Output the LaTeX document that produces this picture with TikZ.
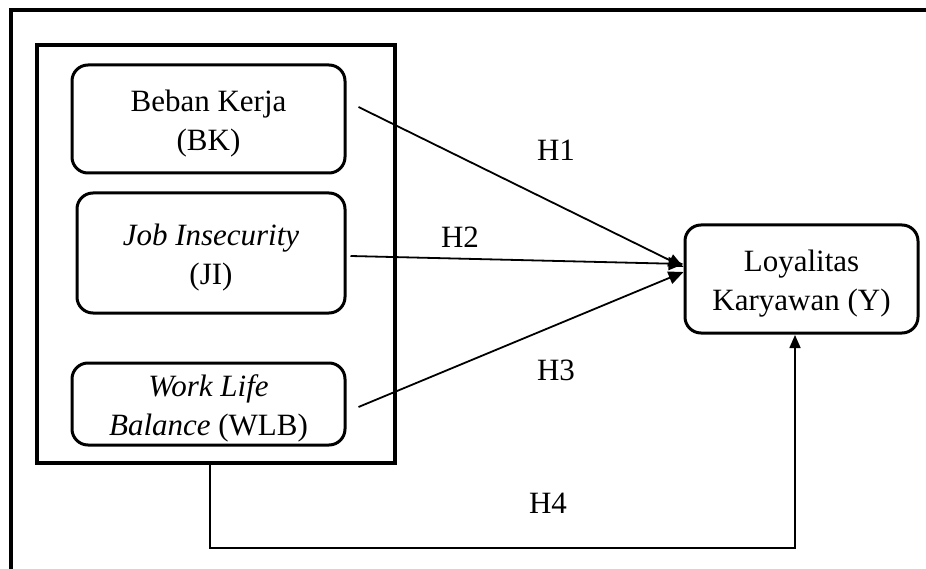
\documentclass[tikz,border=0pt]{standalone}
\usepackage{fontspec}
\setmainfont{Liberation Serif}
\usetikzlibrary{arrows.meta,calc}
\begin{document}
\begin{tikzpicture}[x=1pt,y=-1pt,
  frame/.style={line width=3.5pt},
  grpbox/.style={draw,line width=3.5pt,inner sep=0pt},
  var/.style={draw,line width=3pt,rounded corners=16pt,align=center,
    font=\fontsize{31}{39}\selectfont,inner sep=0pt,
    text height=63pt,text depth=0pt},
  lbl/.style={font=\fontsize{31}{37}\selectfont,inner sep=0pt},
  conn/.style={line width=1.8pt,-{Triangle[length=15pt,width=13pt]}},
  elbow/.style={line width=1.6pt,-{Triangle[length=13pt,width=11pt]}}]
\useasboundingbox (0,0) rectangle (926,569);
\draw[frame] (11,569) -- (11,10) -- (926,10);
\node[grpbox,minimum width=358pt,minimum height=418pt] (grp) at (216,254) {};
\node[var,minimum width=273pt,minimum height=108pt] (bk) at (208.5,119) {Beban Kerja\\(BK)};
\node[var,minimum width=268pt,minimum height=120pt] (ji) at (211,253) {\textit{Job Insecurity}\\(JI)};
\node[var,minimum width=273pt,minimum height=82pt] (wlb) at (208.5,404) {\textit{Work Life}\\\textit{Balance} (WLB)};
\node[var,minimum width=233pt,minimum height=108pt] (y) at (801.5,279) {Loyalitas\\Karyawan (Y)};
\coordinate (bks) at ($(bk.east)+(12,-12)$);
\coordinate (jis) at ($(ji.east)+(4,3)$);
\coordinate (wlbs) at ($(wlb.east)+(12,3)$);
\coordinate (ye1) at ($(y.west)+(0,-12)$);
\coordinate (ye2) at ($(y.west)+(0,-15)$);
\coordinate (ye3) at ($(y.west)+(0,-7)$);
\draw[conn] (bks) -- (ye1);
\draw[conn] (jis) -- (ye2);
\draw[conn] (wlbs) -- (ye3);
\node[lbl] (h1) at (556,150) {H1};
\node[lbl] (h2) at (460,237) {H2};
\node[lbl] (h3) at (556,370) {H3};
\node[lbl] (h4) at (548,503) {H4};
\coordinate (gb) at (210,464);
\coordinate (yb) at (795,335);
\draw[elbow] (gb) -- (210,548) -- (795,548) -- (yb);
\end{tikzpicture}
\end{document}
